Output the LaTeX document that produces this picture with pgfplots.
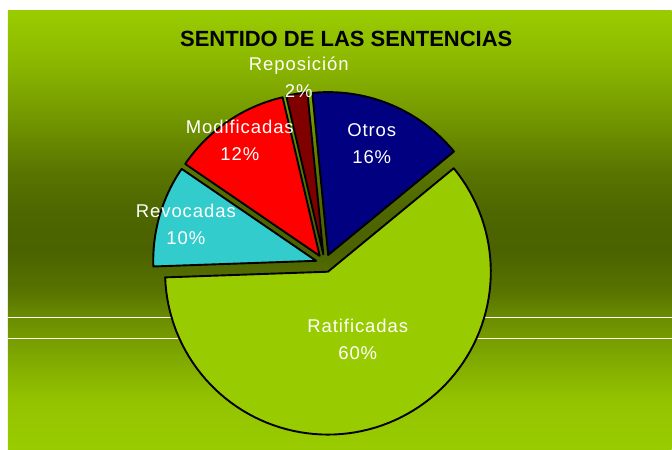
\documentclass[border=0pt]{standalone}
\usepackage{pgfplots}
\pgfplotsset{compat=1.18}
\usepackage{fontspec}
\setmainfont{Liberation Sans}
\newfontfamily\lblfont[LetterSpace=5]{Liberation Sans}

% fondo degradado (tikz ajusta la franja 25bp-75bp al rectangulo)
\definecolor{g0}{HTML}{99CC00}
\definecolor{g1}{HTML}{93C300}
\definecolor{g2}{HTML}{7FA800}
\definecolor{g3}{HTML}{779C00}
\definecolor{g4}{HTML}{6A8C00}
\definecolor{g5}{HTML}{587300}
\definecolor{g6}{HTML}{4B6200}
\definecolor{g7}{HTML}{4E6700}
\definecolor{g8}{HTML}{5A7600}
\definecolor{g9}{HTML}{729600}
\definecolor{g10}{HTML}{8CB800}
\pgfdeclareverticalshading{bg}{100bp}{color(0bp)=(g0); color(25bp)=(g0);
  color(30.7bp)=(g1); color(35.6bp)=(g2); color(37.65bp)=(g3); color(40bp)=(g4);
  color(43.2bp)=(g5); color(47.8bp)=(g6); color(52.35bp)=(g7); color(56.9bp)=(g8);
  color(62.6bp)=(g9); color(69.4bp)=(g10); color(75bp)=(g0); color(100bp)=(g0)}

% sectores
\definecolor{colRat}{HTML}{99CC00}
\definecolor{colRev}{HTML}{33CCCC}
\definecolor{colMod}{HTML}{FF0000}
\definecolor{colRep}{HTML}{800000}
\definecolor{colOtr}{HTML}{000080}

% porcentajes (sentido horario desde las 9)
\def\vRev{10.1}
\def\vMod{11.8}
\def\vRep{2.1}
\def\vOtr{15.6}
\def\vRat{60.4}

% centro, radio y separacion (pixeles)
\def\cx{325}
\def\cy{263.5}
\def\R{163}
\def\dd{9}

\newcommand{\slice}[3]{%
  \pgfmathsetmacro\mA{(#2+#3)/2}%
  \pgfmathsetmacro\ax{\cx+\dd*cos(\mA)}%
  \pgfmathsetmacro\ay{\cy-\dd*sin(\mA)}%
  \edef\doslice{\noexpand\addplot[fill=#1,draw=black,line width=1.9pt,
    line join=round,domain=#3:#2,samples=90,variable=\noexpand\t]
    ({\ax+\R*cos(\noexpand\t)},{\ay-\R*sin(\noexpand\t)})
    -- (axis cs:\ax,\ay) -- cycle;}%
  \doslice}

\begin{document}
\begin{tikzpicture}
\begin{axis}[width=672pt,height=450pt,scale only axis,
  xmin=0,xmax=672,ymin=0,ymax=450,y dir=reverse,hide axis,clip=false]
\fill[white] (axis cs:0,0) rectangle (axis cs:672,450);
\shade[shading=bg] (axis cs:8,11) rectangle (axis cs:672,450);
\draw[white,line width=1pt] (axis cs:8,318) -- (axis cs:672,318);
\draw[white,line width=1pt] (axis cs:8,339) -- (axis cs:672,339);

\pgfmathsetmacro\aA{182}
\pgfmathsetmacro\aB{\aA-3.6*\vRev}
\pgfmathsetmacro\aC{\aB-3.6*\vMod}
\pgfmathsetmacro\aD{\aC-3.6*\vRep}
\pgfmathsetmacro\aE{\aD-3.6*\vOtr}
\pgfmathsetmacro\aF{\aE-3.6*\vRat}

\slice{colRev}{\aA}{\aB}
\slice{colMod}{\aB}{\aC}
\slice{colRep}{\aC}{\aD}
\slice{colOtr}{\aD}{\aE}
\slice{colRat}{\aE}{\aF}

\node[font=\bfseries\fontsize{22}{26}\selectfont] at (axis cs:346.5,38.5) {SENTIDO DE LAS SENTENCIAS};
\tikzset{lbl/.style={text=white,align=center,font=\lblfont\fontsize{18.5}{27}\selectfont}}
\node[lbl] at (axis cs:299,77.5) {Reposición\\2\%};
\node[lbl] at (axis cs:240,140.5) {Modificadas\\12\%};
\node[lbl] at (axis cs:372,143.5) {Otros\\16\%};
\node[lbl] at (axis cs:186,224.5) {Revocadas\\10\%};
\node[lbl] at (axis cs:358,340) {Ratificadas\\60\%};
\end{axis}
\end{tikzpicture}
\end{document}
